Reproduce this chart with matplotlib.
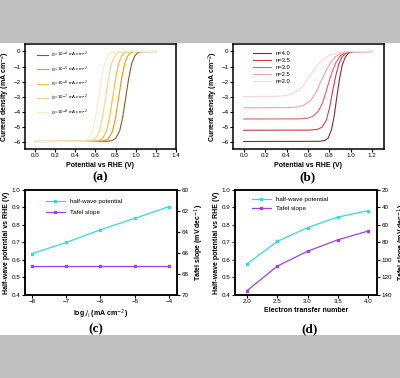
import matplotlib
matplotlib.use("Agg")
import matplotlib.pyplot as plt
from matplotlib.patches import Rectangle

# ---------------------------------
# DATA
# ---------------------------------
# (a) LSV curves for different exchange current densities
j0_labels = ["$j_0$=10$^{-4}$ mA cm$^{-2}$", "$j_0$=10$^{-5}$ mA cm$^{-2}$",
             "$j_0$=10$^{-6}$ mA cm$^{-2}$", "$j_0$=10$^{-7}$ mA cm$^{-2}$",
             "$j_0$=10$^{-8}$ mA cm$^{-2}$"]
j0_colors = ["#8a5a2c", "#e59a12", "#f8bb3c", "#f9d391", "#fde9cc"]
a_y = [-6.0, -5.99, -5.95, -5.8, -5.3, -4.4, -3.1, -1.8, -0.8, -0.3, -0.08, -0.01, 0.0]
a_x = [
    [0.0, 0.70, 0.76, 0.80, 0.84, 0.87, 0.90, 0.93, 0.96, 0.99, 1.02, 1.05, 1.20],
    [0.0, 0.63, 0.69, 0.73, 0.77, 0.80, 0.83, 0.86, 0.89, 0.92, 0.95, 0.98, 1.20],
    [0.0, 0.57, 0.63, 0.67, 0.71, 0.74, 0.77, 0.80, 0.83, 0.86, 0.89, 0.92, 1.20],
    [0.0, 0.50, 0.56, 0.60, 0.64, 0.67, 0.70, 0.73, 0.76, 0.79, 0.82, 0.85, 1.20],
    [0.0, 0.43, 0.49, 0.53, 0.57, 0.60, 0.63, 0.66, 0.69, 0.72, 0.75, 0.78, 1.20],
]

# (b) LSV curves for different electron transfer numbers
n_labels = ["n=4.0", "n=3.5", "n=3.0", "n=2.5", "n=2.0"]
n_colors = ["#7a2e3c", "#c8404c", "#ec5e64", "#f5a1a6", "#fbd5d8"]
b_x = [
    [0.0, 0.70, 0.76, 0.79, 0.82, 0.845, 0.87, 0.895, 0.92, 0.95, 0.98, 1.02, 1.20],
    [0.0, 0.62, 0.69, 0.73, 0.77, 0.80, 0.83, 0.86, 0.89, 0.92, 0.96, 1.01, 1.20],
    [0.0, 0.52, 0.60, 0.65, 0.70, 0.74, 0.78, 0.82, 0.86, 0.90, 0.94, 1.00, 1.20],
    [0.0, 0.42, 0.50, 0.56, 0.62, 0.67, 0.72, 0.77, 0.82, 0.87, 0.92, 0.98, 1.20],
    [0.0, 0.30, 0.38, 0.45, 0.51, 0.56, 0.61, 0.67, 0.73, 0.80, 0.87, 0.95, 1.20],
]
b_y = [
    [-6.0, -5.99, -5.93, -5.75, -5.2, -4.3, -3.0, -1.8, -0.9, -0.35, -0.1, -0.01, 0.0],
    [-5.25, -5.24, -5.19, -5.05, -4.6, -3.8, -2.65, -1.6, -0.8, -0.33, -0.1, -0.01, 0.0],
    [-4.5, -4.49, -4.44, -4.3, -3.95, -3.35, -2.4, -1.45, -0.75, -0.3, -0.1, -0.01, 0.0],
    [-3.75, -3.74, -3.7, -3.58, -3.3, -2.8, -2.0, -1.25, -0.65, -0.27, -0.08, -0.01, 0.0],
    [-3.0, -2.99, -2.95, -2.83, -2.6, -2.25, -1.7, -1.1, -0.6, -0.25, -0.08, -0.01, 0.0],
]

# (c) half-wave potential / Tafel slope vs log j0
log_j = [-8, -7, -6, -5, -4]
c_half = [0.636, 0.700, 0.773, 0.838, 0.905]
c_tafel = [67.2, 67.2, 67.2, 67.2, 67.2]

# (d) half-wave potential / Tafel slope vs n
n_vals = [2.0, 2.5, 3.0, 3.5, 4.0]
d_half = [0.578, 0.706, 0.785, 0.845, 0.882]
d_tafel = [135, 107, 90, 77, 67]

CYAN = "#3ad6e2"
PURPLE = "#9b42f0"
LAB = 5.0   # axis label size
TCK = 4.5   # tick label size

plt.rcParams['font.family'] = ['Liberation Sans', 'DejaVu Sans']

fig = plt.figure(figsize=(4.0, 3.78), dpi=100, facecolor="#c0c0c0")
# white panel between the gray bands
fig.patches.append(Rectangle((0, 0.1138), 1, 0.7724, transform=fig.transFigure,
                             facecolor="white", edgecolor="none", zorder=-1))


def style(ax):
    for s in ax.spines.values():
        s.set_linewidth(1.1)
    ax.tick_params(labelsize=TCK, width=0.8, length=2, pad=1.2,
                   right=False, top=False)


def letter(x, y, txt):
    fig.text(x, y, txt, ha="center", va="center", fontsize=9.5,
             fontweight="bold", family="Liberation Serif")


# ---------------------------------
# (a)
# ---------------------------------
ax = fig.add_axes([0.0625, 0.6058, 0.3775, 0.2778])
for xs, lab, c in zip(a_x, j0_labels, j0_colors):
    ax.plot(xs, a_y, color=c, lw=0.8, label=lab)
ax.set_xlim(-0.1, 1.4)
ax.set_ylim(-6.5, 0.5)
ax.set_xticks([0.0, 0.2, 0.4, 0.6, 0.8, 1.0, 1.2, 1.4])
ax.set_yticks([0, -1, -2, -3, -4, -5, -6])
ax.set_xlabel("Potential vs RHE (V)", fontsize=LAB, fontweight="bold", labelpad=2.5)
ax.set_ylabel("Current density (mA cm$^{-2}$)", fontsize=LAB, fontweight="bold", labelpad=1)
style(ax)
ax.legend(loc="upper left", fontsize=3.2, frameon=False, handlelength=2.5,
          labelspacing=0.9, bbox_to_anchor=(0.05, 0.98))
letter(0.25, 1 - 177 / 378, "(a)")

# ---------------------------------
# (b)
# ---------------------------------
ax = fig.add_axes([0.5825, 0.6058, 0.3775, 0.2778])
for xs, ys, lab, c in zip(b_x, b_y, n_labels, n_colors):
    ax.plot(xs, ys, color=c, lw=0.8, label=lab)
ax.set_xlim(-0.1, 1.31)
ax.set_ylim(-6.5, 0.5)
ax.set_xticks([0.0, 0.2, 0.4, 0.6, 0.8, 1.0, 1.2])
ax.set_yticks([0, -1, -2, -3, -4, -5, -6])
ax.set_xlabel("Potential vs RHE (V)", fontsize=LAB, fontweight="bold", labelpad=2.5)
ax.set_ylabel("Current density (mA cm$^{-2}$)", fontsize=LAB, fontweight="bold", labelpad=1)
style(ax)
ax.legend(loc="upper left", fontsize=4.2, frameon=False, handlelength=3,
          labelspacing=0.3, bbox_to_anchor=(0.1, 0.98))
letter(0.77, 1 - 177 / 378, "(b)")

# ---------------------------------
# (c)
# ---------------------------------
ax = fig.add_axes([0.0625, 0.2196, 0.38, 0.2778])
l1, = ax.plot(log_j, c_half, color=CYAN, lw=0.9, marker="s", ms=2,
              label="half-wave potential")
ax.set_xlim(-8.2, -3.77)
ax.set_ylim(0.4, 1.0)
ax.set_xticks(log_j)
ax.set_yticks([0.4, 0.5, 0.6, 0.7, 0.8, 0.9, 1.0])
ax.set_xlabel("log $j_l$ (mA cm$^{-2}$)", fontsize=LAB, fontweight="bold", labelpad=2)
ax.set_ylabel("Half-wave potential vs RHE (V)", fontsize=LAB, fontweight="bold", labelpad=1)
style(ax)
ax2 = ax.twinx()
l2, = ax2.plot(log_j, c_tafel, color=PURPLE, lw=0.9, marker="s", ms=2,
               label="Tafel slope")
ax2.set_ylim(70, 60)
ax2.set_yticks([60, 62, 64, 66, 68, 70])
ax2.set_ylabel("Tafel slope (mV dec$^{-1}$)", fontsize=LAB, fontweight="bold", labelpad=3)
ax2.tick_params(labelsize=TCK, width=0.8, length=2, pad=1.2)
for s in ax2.spines.values():
    s.set_linewidth(1.1)
ax.legend(handles=[l1, l2], loc="upper left", fontsize=4.5, frameon=False,
          handlelength=3, labelspacing=0.9, bbox_to_anchor=(0.1, 0.97))
letter(0.24, 1 - 329 / 378, "(c)")

# ---------------------------------
# (d)
# ---------------------------------
ax = fig.add_axes([0.5875, 0.2196, 0.355, 0.2778])
l1, = ax.plot(n_vals, d_half, color=CYAN, lw=0.9, marker="s", ms=2,
              label="half-wave potential")
ax.set_xlim(1.8, 4.15)
ax.set_ylim(0.4, 1.0)
ax.set_xticks(n_vals)
ax.set_yticks([0.4, 0.5, 0.6, 0.7, 0.8, 0.9, 1.0])
ax.set_xlabel("Electron transfer number", fontsize=LAB, fontweight="bold", labelpad=2)
ax.set_ylabel("Half-wave potential vs RHE (V)", fontsize=LAB, fontweight="bold", labelpad=1)
style(ax)
ax2 = ax.twinx()
l2, = ax2.plot(n_vals, d_tafel, color=PURPLE, lw=0.9, marker="s", ms=2,
               label="Tafel slope")
ax2.set_ylim(140, 20)
ax2.set_yticks([20, 40, 60, 80, 100, 120, 140])
ax2.set_ylabel("Tafel slope (mV dec$^{-1}$)", fontsize=LAB, fontweight="bold", labelpad=3)
ax2.tick_params(labelsize=TCK, width=0.8, length=2, pad=1.2)
for s in ax2.spines.values():
    s.set_linewidth(1.1)
ax.legend(handles=[l1, l2], loc="upper left", fontsize=4.5, frameon=False,
          handlelength=3, labelspacing=0.6, bbox_to_anchor=(0.08, 0.99))
letter(0.775, 1 - 329 / 378, "(d)")

fig.savefig("out.png", dpi=100, facecolor=fig.get_facecolor())
